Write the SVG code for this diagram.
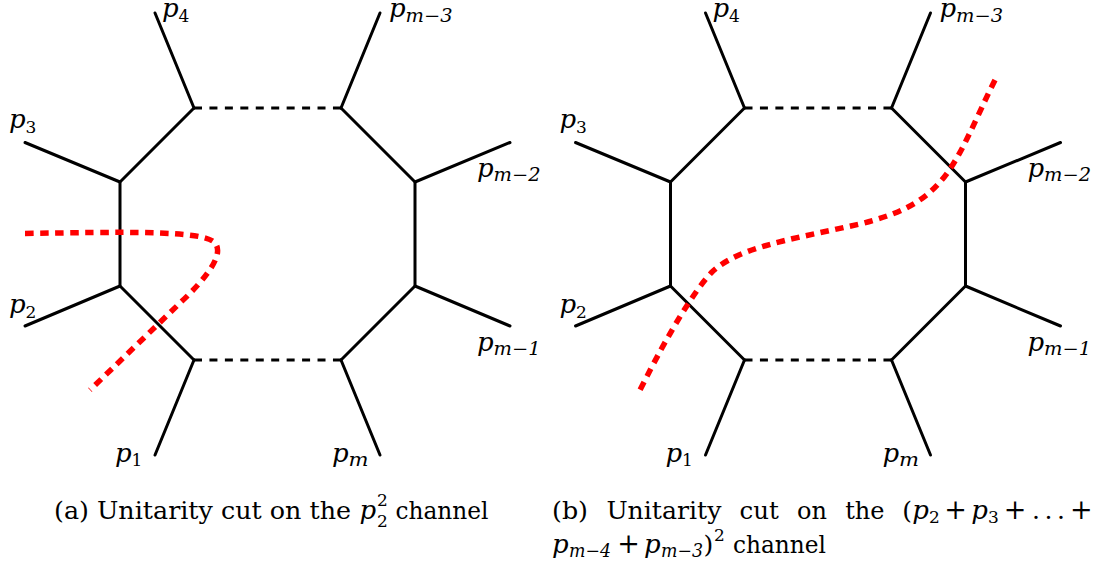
<svg xmlns="http://www.w3.org/2000/svg" width="1106" height="564" viewBox="0 0 1106 564">
<style>
.ln{stroke:#000;stroke-width:3;fill:none;stroke-linecap:round;stroke-linejoin:round}
.dash{stroke:#000;stroke-width:3;fill:none;stroke-dasharray:8 7.44}
.cut{stroke:#ff0000;stroke-width:5.5;fill:none;stroke-dasharray:8.5 6.5}
text{font-family:"DejaVu Serif","Liberation Serif",serif;fill:#000}
.mi{font-style:italic;font-size:26px}
.ms{font-style:italic;font-size:18px}
.rs{font-size:17px}
.rm{font-size:25px}
.op{font-size:27px;text-anchor:middle}
</style>
<defs>
<g id="graph">
  <g id="loop">
    <path class="ln" d="M341,108 L415,182 L415,286 L341,360"/>
    <path class="ln" d="M194,108 L120,182 L120,286 L194,360"/>
    <path class="dash" d="M194,108 L341,108"/>
    <path class="dash" d="M194,360 L341,360"/>
  </g>
  <g id="legs">
    <path class="ln" d="M194,108 L155,13"/>
    <path class="ln" d="M341,108 L380,13"/>
    <path class="ln" d="M120,182 L25,142.5"/>
    <path class="ln" d="M415,182 L510,142.5"/>
    <path class="ln" d="M120,286 L25,326"/>
    <path class="ln" d="M415,286 L510,326"/>
    <path class="ln" d="M194,360 L155,455"/>
    <path class="ln" d="M341,360 L380,455"/>
  </g>
  <g id="labels">
    <text class="mi" x="162" y="17">p</text><text class="rs" x="178.5" y="21.5">4</text>
    <text class="mi" x="389" y="17">p</text><text class="ms" x="405.5" y="21.5" textLength="47" lengthAdjust="spacingAndGlyphs">m−3</text>
    <text class="mi" x="9" y="128">p</text><text class="rs" x="25.5" y="132.5">3</text>
    <text class="mi" x="477" y="176.5">p</text><text class="ms" x="493.5" y="181" textLength="47" lengthAdjust="spacingAndGlyphs">m−2</text>
    <text class="mi" x="9" y="313">p</text><text class="rs" x="25.5" y="317.5">2</text>
    <text class="mi" x="477" y="350.5">p</text><text class="ms" x="493.5" y="355" textLength="47" lengthAdjust="spacingAndGlyphs">m−1</text>
    <text class="mi" x="115" y="461.5">p</text><text class="rs" x="131.5" y="466">1</text>
    <text class="mi" x="332" y="461.5">p</text><text class="ms" x="348.5" y="466" textLength="20" lengthAdjust="spacingAndGlyphs">m</text>
  </g>
</g>
</defs>

<g id="diagram-a">
  <use href="#graph"/>
  <g id="cut-a">
    <path class="cut" d="M25,233.5 C120,232 200,230 214,242 C225,252 210,275 180,303 L90,390"/>
  </g>
</g>

<g id="diagram-b" transform="translate(550.5,0)">
  <use href="#graph"/>
  <g id="cut-b">
    <path class="cut" d="M444.5,80 C424.5,120 409.5,160 389.5,182 C369.5,205 344.5,215 309.5,224 L249.5,237 C209.5,246 179.5,255 161.5,272 C144.5,290 119.5,330 89.5,390"/>
  </g>
</g>

<g id="caption-a">
  <text class="rm" x="54" y="519" textLength="297" lengthAdjust="spacingAndGlyphs">(a) Unitarity cut on the</text>
  <text class="mi" x="359.5" y="519">p</text>
  <text class="rs" x="377" y="506">2</text>
  <text class="rs" x="377" y="527">2</text>
  <text class="rm" x="395.5" y="519" textLength="93" lengthAdjust="spacingAndGlyphs">channel</text>
</g>

<g id="caption-b">
  <text class="rm" x="552" y="519" textLength="36" lengthAdjust="spacingAndGlyphs">(b)</text>
  <text class="rm" x="606.4" y="519" textLength="115" lengthAdjust="spacingAndGlyphs">Unitarity</text>
  <text class="rm" x="739.6" y="519" textLength="39.3" lengthAdjust="spacingAndGlyphs">cut</text>
  <text class="rm" x="797.1" y="519" textLength="29.9" lengthAdjust="spacingAndGlyphs">on</text>
  <text class="rm" x="845.2" y="519" textLength="39.3" lengthAdjust="spacingAndGlyphs">the</text>
  <text class="rm" x="902.2" y="519">(</text>
  <text class="mi" x="912.2" y="519">p</text>
  <text class="rs" x="929" y="523.2">2</text>
  <text class="op" x="955.6" y="519">+</text>
  <text class="mi" x="971.2" y="519">p</text>
  <text class="rs" x="988" y="523.2">3</text>
  <text class="op" x="1015" y="519">+</text>
  <text class="rm" x="1032.1" y="519">.</text>
  <text class="rm" x="1044.5" y="519">.</text>
  <text class="rm" x="1056.9" y="519">.</text>
  <text class="op" x="1081.4" y="519">+</text>

  <text class="mi" x="552" y="553">p</text>
  <text class="ms" x="569" y="557.2" textLength="42" lengthAdjust="spacingAndGlyphs">m−4</text>
  <text class="op" x="628.5" y="553">+</text>
  <text class="mi" x="644" y="553">p</text>
  <text class="ms" x="661" y="557.2" textLength="42" lengthAdjust="spacingAndGlyphs">m−3</text>
  <text class="rm" x="703.5" y="553">)</text>
  <text class="rs" x="714" y="541.3">2</text>
  <text class="rm" x="733" y="553" textLength="93" lengthAdjust="spacingAndGlyphs">channel</text>
</g>
</svg>
